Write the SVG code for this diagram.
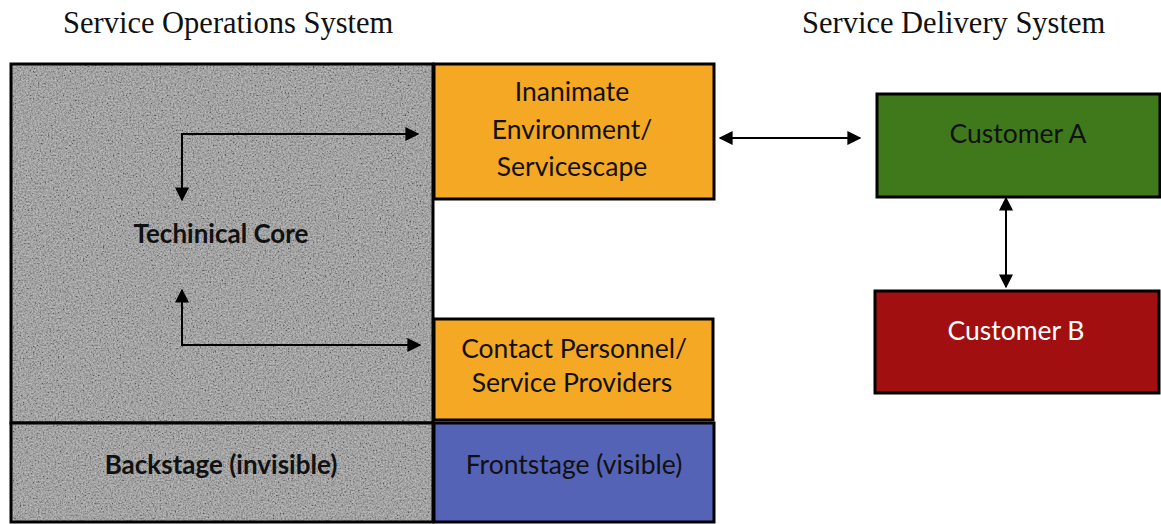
<svg xmlns="http://www.w3.org/2000/svg" width="1161" height="524" viewBox="0 0 1161 524">
<defs>
<filter id="grain" x="0" y="0" width="100%" height="100%" filterUnits="objectBoundingBox">
<feTurbulence type="fractalNoise" baseFrequency="0.6" numOctaves="3" seed="5" result="n"/>
<feColorMatrix in="n" type="matrix" values="1.6 0 0 0 -0.3  1.6 0 0 0 -0.3  1.6 0 0 0 -0.3  0 0 0 0 0.4"/>
</filter>
<marker id="ahb" viewBox="0 0 10 10" refX="9" refY="5" markerWidth="14" markerHeight="14" markerUnits="userSpaceOnUse" orient="auto-start-reverse">
<path d="M0,0 L10,5 L0,10 z" fill="#000"/>
</marker>
</defs>
<style>
.title{font-family:"Liberation Serif",serif;font-size:30.5px;fill:#111}
.lbl{font-family:Lato,"Open Sans",sans-serif;font-size:26.5px;fill:#111;text-anchor:middle}
.b{font-weight:bold;font-size:26px}
.box{stroke:#000;stroke-width:3}
.frame{stroke:#000;stroke-width:3;fill:none}
.gray{fill:#929292}
.conn{stroke:#000;stroke-width:2;fill:none}
</style>
<rect width="1161" height="524" fill="#fff"/>
<text class="title" x="63" y="33">Service Operations System</text>
<text class="title" x="802" y="33">Service Delivery System</text>
<g id="technical-core">
<rect class="gray" x="11" y="64" width="422" height="359"/>
<rect x="11" y="64" width="422" height="359" fill="#000" filter="url(#grain)"/>
<rect class="frame" x="11" y="64" width="422" height="359"/>
<text class="lbl b" x="221" y="243">Techinical Core</text>
</g>
<g id="backstage">
<rect class="gray" x="11" y="423" width="422" height="99"/>
<rect x="11" y="423" width="422" height="99" fill="#000" filter="url(#grain)"/>
<rect class="frame" x="11" y="423" width="422" height="99"/>
<text class="lbl b" x="221" y="474">Backstage (invisible)</text>
</g>
<g id="inanimate">
<rect class="box" x="434" y="64" width="280" height="135" fill="#f5a823"/>
<text class="lbl" x="572" y="101">Inanimate</text>
<text class="lbl" x="572" y="139">Environment/</text>
<text class="lbl" x="572" y="176">Servicescape</text>
</g>
<g id="contact">
<rect class="box" x="434" y="319" width="279" height="101" fill="#f5a823"/>
<text class="lbl" x="574" y="358">Contact Personnel/</text>
<text class="lbl" x="572" y="392">Service Providers</text>
</g>
<g id="frontstage">
<rect class="box" x="434" y="423" width="280" height="99" fill="#5563b6"/>
<text class="lbl" x="574" y="474">Frontstage (visible)</text>
</g>
<g id="customer-a">
<rect class="box" x="877" y="94" width="283" height="103" fill="#40791c"/>
<text class="lbl" x="1018" y="143">Customer A</text>
</g>
<g id="customer-b">
<rect class="box" x="875" y="291" width="284" height="102" fill="#a10f10"/>
<text class="lbl" x="1016" y="340" style="fill:#fff">Customer B</text>
</g>
<g id="connectors">
<path class="conn" d="M182,200 V134 H418" marker-start="url(#ahb)" marker-end="url(#ahb)"/>
<path class="conn" d="M182,290 V345 H420" marker-start="url(#ahb)" marker-end="url(#ahb)"/>
<path class="conn" d="M720,138 H860" marker-start="url(#ahb)" marker-end="url(#ahb)"/>
<path class="conn" d="M1006,198 V287" marker-start="url(#ahb)" marker-end="url(#ahb)"/>
</g>
</svg>
